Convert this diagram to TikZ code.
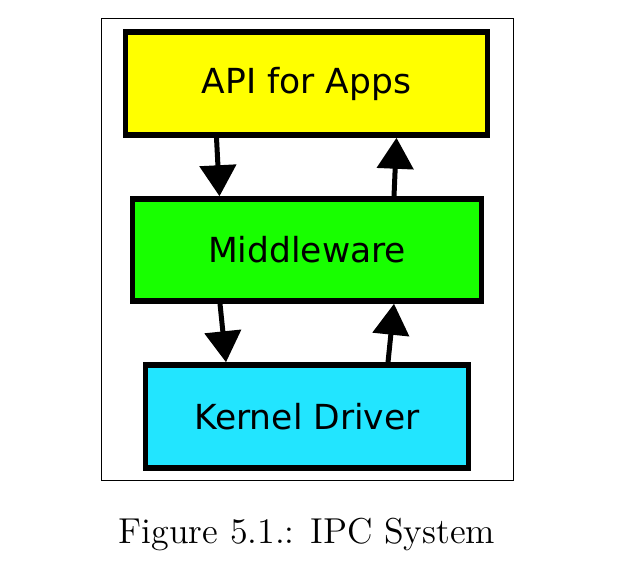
\documentclass[tikz,border=0pt]{standalone}
\usepackage{fontspec}
\newfontfamily\boxfont{DejaVu Sans}
\newfontfamily\capfont{lmroman12-regular.otf}
\usetikzlibrary{arrows.meta}
\definecolor{apiyellow}{RGB}{255,255,0}
\definecolor{midgreen}{RGB}{24,255,0}
\definecolor{kernelcyan}{RGB}{34,229,255}
\tikzset{
  layer/.style={draw=black, line width=5.5pt, inner sep=0pt,
    font=\boxfont\fontsize{34.5}{40}\selectfont},
  flow/.style={line width=5pt, -{Triangle[length=31pt,width=36pt]}}
}
\begin{document}
\begin{tikzpicture}[x=1pt,y=-1pt]
    \useasboundingbox (0,0) rectangle (644,587);
    %\draw[help lines, color=blue!20,step=50pt] (0,0) grid (644,587);
    \draw[line width=1pt] (101,18) rectangle (513,480);

    \node[layer, fill=apiyellow, minimum width=362pt, minimum height=103pt] (api) at (306.5,83.5) {API for Apps};
    \node[layer, fill=midgreen, minimum width=349pt, minimum height=102pt] (mid) at (307,250) {Middleware};
    \node[layer, fill=kernelcyan, minimum width=323pt, minimum height=103pt] (kernel) at (307,416.5) {Kernel Driver};

    \draw[flow] ([xshift=-90pt]api.south) -- ([xshift=-87.5pt]mid.north);
    \draw[flow] ([xshift=87pt]mid.north) -- ([xshift=90pt]api.south);
    \draw[flow] ([xshift=-87pt]mid.south) -- ([xshift=-81pt]kernel.north);
    \draw[flow] ([xshift=81pt]kernel.north) -- ([xshift=87pt]mid.south);

    \node[font=\capfont\fontsize{36}{43}\selectfont] (caption) at (307,535) {Figure 5.1.: IPC System};
  \end{tikzpicture}
\end{document}
